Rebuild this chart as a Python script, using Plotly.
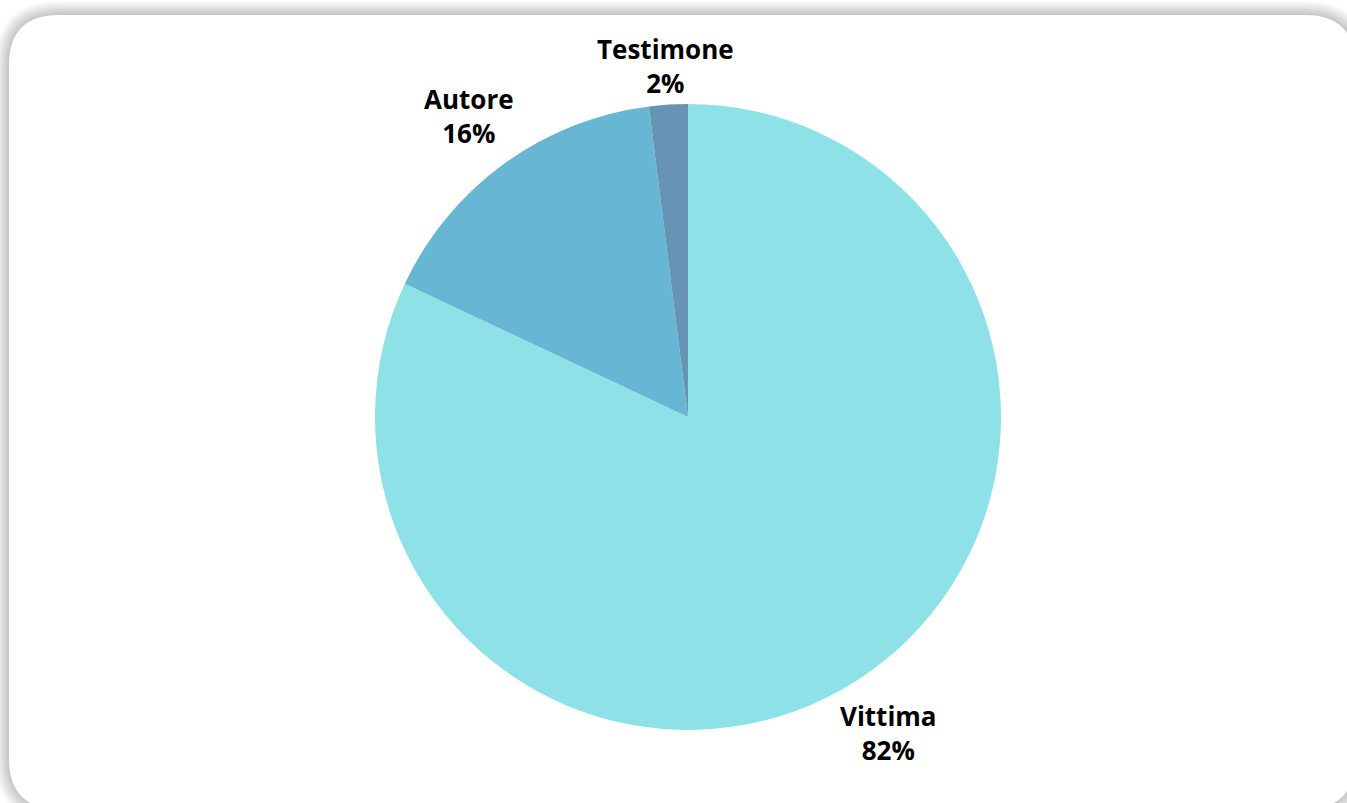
import math
import plotly.graph_objects as go

# Ruolo nel caso
labels = ["Vittima", "Autore", "Testimone"]
values = [82, 16, 2]
colors = ["#8EE2E7", "#67B6D3", "#6793B6"]

W, H = 1347, 803
FONT = "Open Sans"
FONT_SIZE = 26
LINE_GAP = 30        # nominal distance between the two label baselines (px)
CAP = 0.714 * FONT_SIZE
CHAR_W = 0.575 * FONT_SIZE


def px(x, y):
    return x / W, 1 - y / H


def rounded_rect(x0, y0, x1, y1, r):
    """SVG path (paper coords) for a rounded rectangle given in pixels."""
    def p(x, y):
        a, b = px(x, y)
        return f"{a:.6f},{b:.6f}"

    return " ".join([
        f"M {p(x0 + r, y0)}",
        f"L {p(x1 - r, y0)}",
        f"Q {p(x1, y0)} {p(x1, y0 + r)}",
        f"L {p(x1, y1 - r)}",
        f"Q {p(x1, y1)} {p(x1 - r, y1)}",
        f"L {p(x0 + r, y1)}",
        f"Q {p(x0, y1)} {p(x0, y1 - r)}",
        f"L {p(x0, y0 + r)}",
        f"Q {p(x0, y0)} {p(x0 + r, y0)}",
        "Z",
    ])


card = dict(x0=9, y0=15, x1=1355, y1=809, r=50)

shapes = []
# soft shadow around the card
for i in range(14, 0, -1):
    shapes.append(dict(
        type="path", xref="paper", yref="paper", layer="below",
        path=rounded_rect(card["x0"] - i, card["y0"] - i, card["x1"] + i,
                          card["y1"] + i, card["r"] + i),
        fillcolor="rgba(0,0,0,0.016)", line=dict(width=0),
    ))
shapes.append(dict(
    type="path", xref="paper", yref="paper", layer="below",
    path=rounded_rect(card["x0"], card["y0"], card["x1"], card["y1"], card["r"]),
    fillcolor="#FFFFFF", line=dict(width=0),
))

# pie geometry (pixels): centre and radius
cx, cy, r = 688, 417, 313
dx0, dy0 = px(cx - r, cy + r)
dx1, dy1 = px(cx + r, cy - r)

fig = go.Figure(go.Pie(
    labels=labels,
    values=values,
    sort=False,
    direction="clockwise",
    rotation=0,
    marker=dict(colors=colors, line=dict(width=0)),
    textinfo="none",
    showlegend=False,
    hoverinfo="label+percent",
    domain=dict(x=[dx0, dx1], y=[dy0, dy1]),
    automargin=False,
))

# outside labels: placed along each slice's mid-angle so that the nearest
# point of the label block sits a fixed gap outside the rim
GAP = 14
total = sum(values)
annotations = []
start = 0.0
for lab, v in zip(labels, values):
    frac = v / total
    mid = (start + frac / 2) * 2 * math.pi   # clockwise from 12 o'clock
    start += frac
    ux, uy = math.sin(mid), -math.cos(mid)
    pct = f"{round(frac * 100)}%"
    hw = max(len(lab), len(pct)) * CHAR_W / 2
    hh = (CAP + LINE_GAP) / 2

    def dist(t):
        bx, by = t * ux, t * uy
        ex = max(abs(bx) - hw, 0)
        ey = max(abs(by) - hh, 0)
        return math.hypot(ex, ey)

    lo, hi = 0.0, r + 400
    for _ in range(60):
        m = (lo + hi) / 2
        if dist(m) < r + GAP:
            lo = m
        else:
            hi = m
    bx, by = cx + lo * ux, cy + lo * uy
    xa, ya = px(bx, by)
    annotations.append(dict(
        x=xa, y=ya, xref="paper", yref="paper",
        text=f"<b>{lab}</b><br><b>{pct}</b>", showarrow=False,
        xanchor="center", yanchor="middle", align="center",
        font=dict(family=FONT, size=FONT_SIZE, color="#000000"),
    ))

fig.update_layout(
    width=W, height=H,
    margin=dict(l=0, r=0, t=0, b=0),
    paper_bgcolor="#FFFFFF",
    plot_bgcolor="#FFFFFF",
    shapes=shapes,
    annotations=annotations,
    showlegend=False,
)

fig.write_html("out.html", config={"displayModeBar": False})
